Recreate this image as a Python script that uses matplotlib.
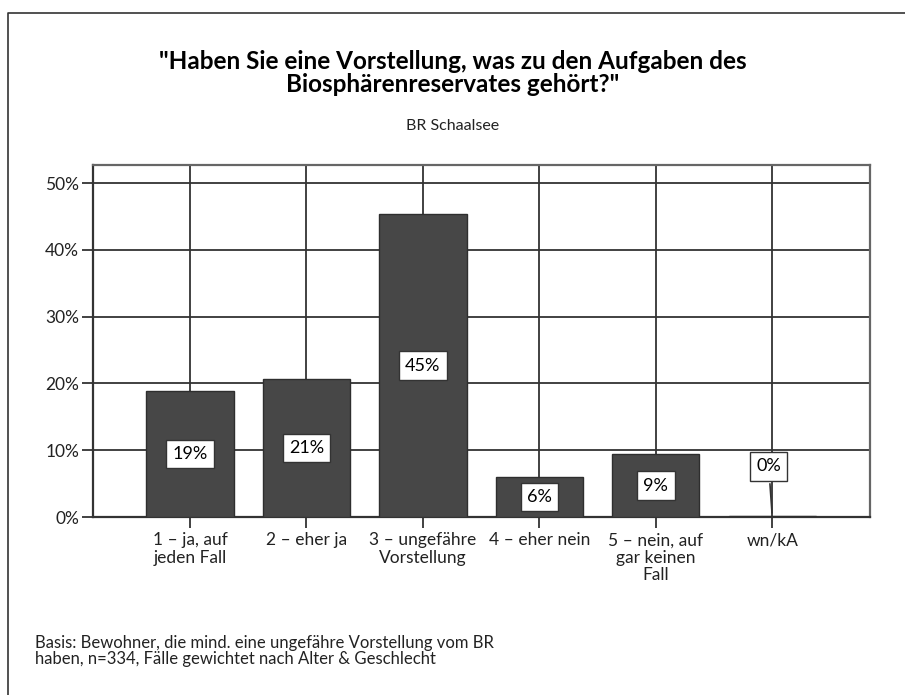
import matplotlib
matplotlib.use("Agg")
import matplotlib.pyplot as plt
from matplotlib.lines import Line2D

plt.rcParams['font.family'] = ['Lato', 'DejaVu Sans']

# Daten
kategorien = ["1 – ja, auf\njeden Fall", "2 – eher ja", "3 – ungefähre\nVorstellung",
              "4 – eher nein", "5 – nein, auf\ngar keinen\nFall", "wn/kA"]
werte = [18.9, 20.7, 45.3, 6.0, 9.4, 0.2]
beschriftung = ["19%", "21%", "45%", "6%", "9%", "0%"]
yticks = [0, 10, 20, 30, 40, 50]

W, H = 905, 695
fig = plt.figure(figsize=(W / 100, H / 100), dpi=100)
ax = fig.add_axes([93 / W, 1 - 517 / H, (870 - 93) / W, (517 - 165) / H])

x = list(range(len(kategorien)))
ax.bar(x, werte, width=0.75, color="#474747", edgecolor="#2e2e2e", linewidth=1, zorder=3)

ax.set_xlim(-0.833, 5.84)
ax.set_ylim(0, 52.7)
ax.set_yticks(yticks)
ax.set_yticklabels([f"{v}%" for v in yticks], fontsize=12.5, color="#222222")
ax.set_xticks(x)
ax.set_xticklabels(kategorien, fontsize=12.5, color="#222222", linespacing=1.1)
ax.tick_params(axis="both", length=8, width=1.3, color="#333333")
ax.tick_params(axis="y", pad=2)
ax.tick_params(axis="x", pad=3)

ax.grid(True, color="#333333", linewidth=1.3, zorder=0)
ax.set_axisbelow(True)
for s in ax.spines.values():
    s.set_color("#666666")
    s.set_linewidth(1.6)
ax.spines["left"].set_color("#333333")
ax.spines["bottom"].set_color("#333333")

box = dict(boxstyle="square,pad=0.35", facecolor="white", edgecolor="#333333", linewidth=1)
for i, (v, t) in enumerate(zip(werte, beschriftung)):
    if v < 2:
        ax.annotate(t, xy=(i, v), xytext=(i - 0.03, 7.6), ha="center", va="center",
                    fontsize=13, bbox=box, zorder=5,
                    arrowprops=dict(arrowstyle="-", color="#333333", lw=1.2))
    else:
        ax.text(i, v / 2, t, ha="center", va="center", fontsize=13, bbox=box, zorder=5)

fig.text(0.5, 1 - 73 / H,
         "\"Haben Sie eine Vorstellung, was zu den Aufgaben des\nBiosphärenreservates gehört?\"",
         ha="center", va="center", fontsize=17.5, fontweight="bold", linespacing=1.0)
fig.text(0.5, 1 - 126 / H, "BR Schaalsee", ha="center", va="center", fontsize=11.5, color="#222222")

fig.text(35 / W, 1 - 651 / H,
         "Basis: Bewohner, die mind. eine ungefähre Vorstellung vom BR\nhaben, n=334, Fälle gewichtet nach Alter & Geschlecht",
         ha="left", va="center", fontsize=12, color="#222222", linespacing=1.05)

# Rahmen
fig.add_artist(Line2D([8 / W, 8 / W, 1], [0, 1 - 13 / H, 1 - 13 / H],
                      transform=fig.transFigure, color="#333333", linewidth=1.2))

fig.savefig("out.png", dpi=100)
